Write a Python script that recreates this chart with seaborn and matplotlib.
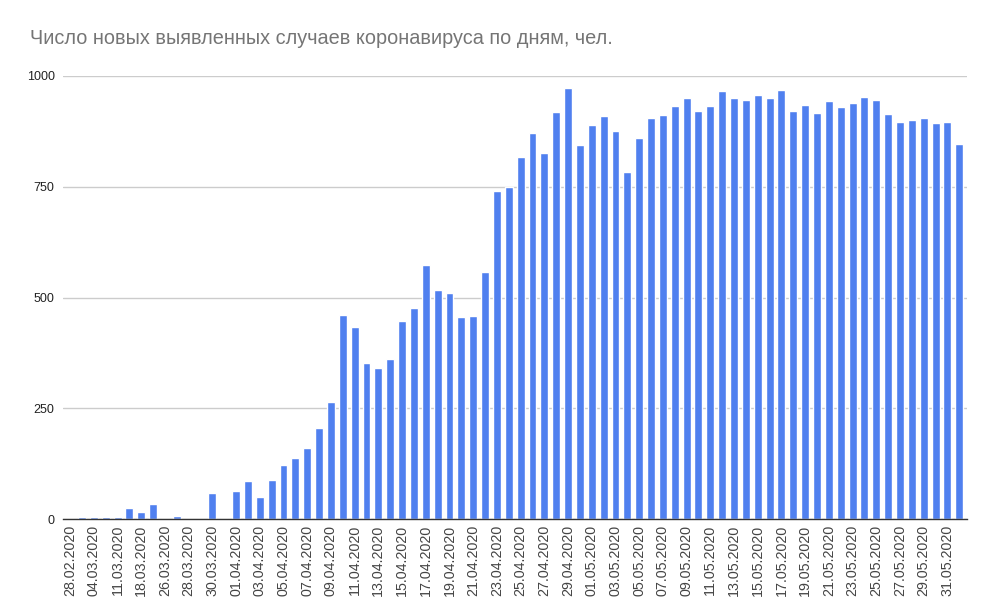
import matplotlib
matplotlib.use("Agg")
import matplotlib.pyplot as plt
import seaborn as sns
import pandas as pd
from datetime import date, timedelta

# ---- data ----
early_dates = ["28.02.2020", "02.03.2020", "04.03.2020", "06.03.2020", "11.03.2020",
               "14.03.2020", "18.03.2020", "20.03.2020"]
start = date(2020, 3, 26)
daily_dates = [(start + timedelta(days=i)).strftime("%d.%m.%Y") for i in range(68)]
dates = early_dates + daily_dates

cases = [0, 4, 4, 4, 4, 25, 16, 34,
         # 26.03 - 31.03
         0, 7, 0, 0, 59, 0,
         # April
         64, 86, 50, 89, 122, 138, 160, 205, 264, 460,
         433, 352, 341, 361, 447, 476, 573, 517, 510, 456,
         458, 557, 740, 749, 817, 871, 826, 918, 972, 844,
         # May
         889, 909, 876, 784, 860, 905, 912, 932, 950, 921,
         932, 966, 950, 945, 957, 950, 968, 921, 934, 916,
         943, 930, 939, 952, 945, 914, 896, 901, 905, 894,
         896,
         # 01.06
         847]

title = "Число новых выявленных случаев коронавируса по дням, чел."
yticks = [0, 250, 500, 750, 1000]

df = pd.DataFrame({"date": dates, "cases": cases})

# ---- plot ----
sns.set_theme(style="white")
plt.rcParams["font.family"] = ["Liberation Sans", "DejaVu Sans"]

fig = plt.figure(figsize=(9.95, 6.14), dpi=100)
ax = fig.add_axes([63 / 995, 1 - 519 / 614, 904 / 995, 443 / 614])

sns.barplot(data=df, x="date", y="cases", color="#5080EF", saturation=1,
            width=0.67, ax=ax, order=dates)

ax.set_xlim(-0.6, len(dates) - 0.35)
ax.set_ylim(0, 1000)
ax.set_yticks(yticks)
ax.set_yticklabels([str(v) for v in yticks], fontsize=9, color="#222222")
ax.yaxis.grid(True, color="#cccccc", linewidth=1)
ax.set_axisbelow(True)
ax.tick_params(axis="y", length=0, pad=6)

ax.set_xticks(range(0, len(dates), 2))
ax.set_xticklabels(dates[::2], rotation=90, fontsize=10.3, color="#444444")
ax.tick_params(axis="x", length=0, pad=4)

for s in ["top", "right", "left"]:
    ax.spines[s].set_visible(False)
ax.spines["bottom"].set_color("#333333")
ax.spines["bottom"].set_linewidth(1)

ax.set_xlabel("")
ax.set_ylabel("")

fig.text(30 / 995, 1 - 38 / 614, title, fontsize=14.3, color="#757575",
         ha="left", va="center")

fig.savefig("out.png", dpi=100, facecolor="white")
